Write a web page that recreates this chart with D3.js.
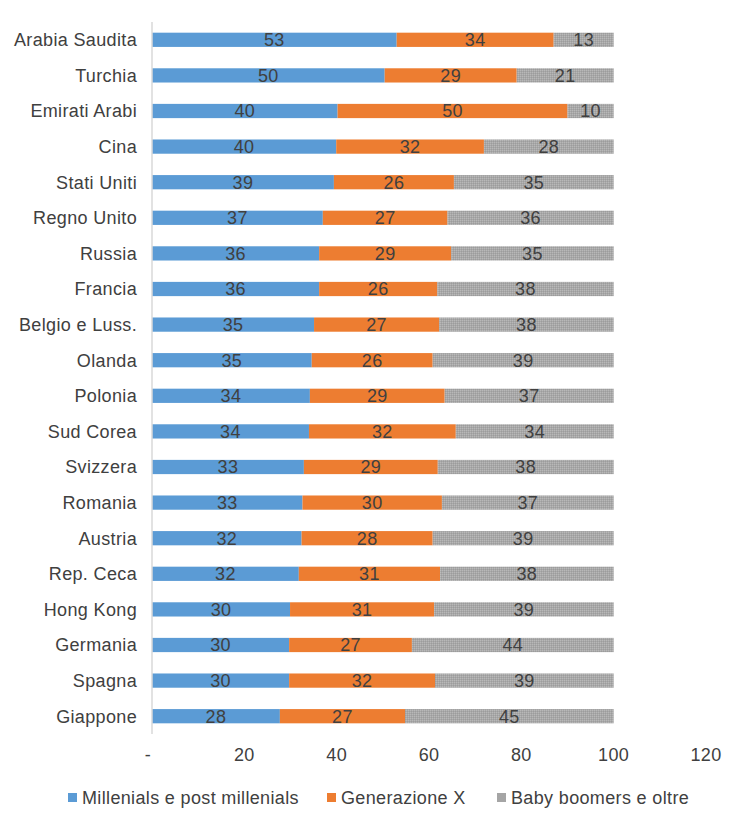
<!DOCTYPE html>
<html>
<head>
<meta charset="utf-8">
<script src="https://cdn.jsdelivr.net/npm/d3@7"></script>
<style>
  body { margin: 0; background: #fff; }
  svg text { font-family: "Liberation Sans", Arial, sans-serif; letter-spacing: 0.35px; }
</style>
</head>
<body>
<svg id="chart" width="750" height="826"></svg>
<script>
const categories = ["Arabia Saudita","Turchia","Emirati Arabi","Cina","Stati Uniti","Regno Unito","Russia","Francia","Belgio e Luss.","Olanda","Polonia","Sud Corea","Svizzera","Romania","Austria","Rep. Ceca","Hong Kong","Germania","Spagna","Giappone"];
const millenials = [53.0,50.4,40.2,39.9,39.4,37.0,36.2,36.2,35.1,34.6,34.2,34.0,32.9,32.6,32.4,31.8,29.9,29.7,29.7,27.7];
const genX       = [34.0,28.6,49.8,32.0,26.0,27.0,28.6,25.6,27.1,26.2,29.2,31.8,29.0,30.2,28.4,30.6,31.2,26.6,31.6,27.1];
const boomers    = [13.0,21.0,10.0,28.1,34.6,36.0,35.2,38.2,37.8,39.2,36.6,34.2,38.1,37.2,39.2,37.6,38.9,43.7,38.7,45.2];
const seriesNames = ["Millenials e post millenials","Generazione X","Baby boomers e oltre"];
const colors = ["#5b9bd5","#ed7d31","#a5a5a5"];
const xTicks = [0,20,40,60,80,100,120];
const xTickLabels = ["-","20","40","60","80","100","120"];

const svg = d3.select("#chart");
const defs = svg.append("defs");
const pat = defs.append("pattern").attr("id","dots").attr("width",2).attr("height",2).attr("patternUnits","userSpaceOnUse");
pat.append("rect").attr("width",2).attr("height",2).attr("fill","#a8a8a8");
pat.append("rect").attr("x",0).attr("y",0).attr("width",1).attr("height",1).attr("fill","#b8b8b8");
pat.append("rect").attr("x",1).attr("y",1).attr("width",1).attr("height",1).attr("fill","#9c9c9c");
const fills = [colors[0], colors[1], "url(#dots)"];

const plotLeft = 152, plotRight = 706, plotTop = 22, plotBottom = 734;
const x = d3.scaleLinear().domain([0,120]).range([plotLeft,plotRight]);
const y = d3.scaleBand().domain(categories).range([plotTop,plotBottom]).paddingInner(0.6).paddingOuter(0.3);

const stackData = categories.map((c,i)=>({cat:c, s0:millenials[i], s1:genX[i], s2:boomers[i]}));
const stack = d3.stack().keys(["s0","s1","s2"])(stackData);

const g = svg.append("g");
stack.forEach((layer,k)=>{
  g.selectAll(null).data(layer).enter().append("rect")
    .attr("x", d=>x(d[0]))
    .attr("y", d=>y(d.data.cat))
    .attr("width", d=>x(d[1])-x(d[0]))
    .attr("height", y.bandwidth())
    .attr("fill", fills[k]);
});
stack.forEach((layer,k)=>{
  g.selectAll(null).data(layer).enter().append("text")
    .attr("x", d=>(x(d[0])+x(d[1]))/2)
    .attr("y", d=>y(d.data.cat)+y.bandwidth()/2)
    .attr("dy","0.36em")
    .attr("text-anchor","middle")
    .attr("font-size",18)
    .attr("fill","#404040")
    .text(d=>Math.round(d[1]-d[0]));
});

// vertical axis line
svg.append("line").attr("x1",plotLeft).attr("x2",plotLeft).attr("y1",plotTop).attr("y2",plotBottom)
  .attr("stroke","#d9d9d9").attr("stroke-width",1.5);

// category labels
svg.append("g").selectAll("text").data(categories).enter().append("text")
  .attr("x", 137)
  .attr("y", d=>y(d)+y.bandwidth()/2)
  .attr("dy","0.36em")
  .attr("text-anchor","end")
  .attr("font-size",18)
  .attr("fill","#404040")
  .text(d=>d);

// x axis tick labels
svg.append("g").selectAll("text").data(xTicks).enter().append("text")
  .attr("x", d=>x(d) - (d===0?4:0))
  .attr("y", 755)
  .attr("dy","0.36em")
  .attr("text-anchor","middle")
  .attr("font-size",18)
  .attr("fill","#404040")
  .text((d,i)=>xTickLabels[i]);

// legend
const legendX = [68, 327, 497];
const lg = svg.append("g");
seriesNames.forEach((n,i)=>{
  lg.append("rect").attr("x",legendX[i]).attr("y",793).attr("width",9).attr("height",9).attr("fill",colors[i]);
  lg.append("text").attr("x",legendX[i]+14).attr("y",797.5).attr("dy","0.36em")
    .attr("font-size",18).attr("fill","#404040").text(n);
});
</script>
</body>
</html>
